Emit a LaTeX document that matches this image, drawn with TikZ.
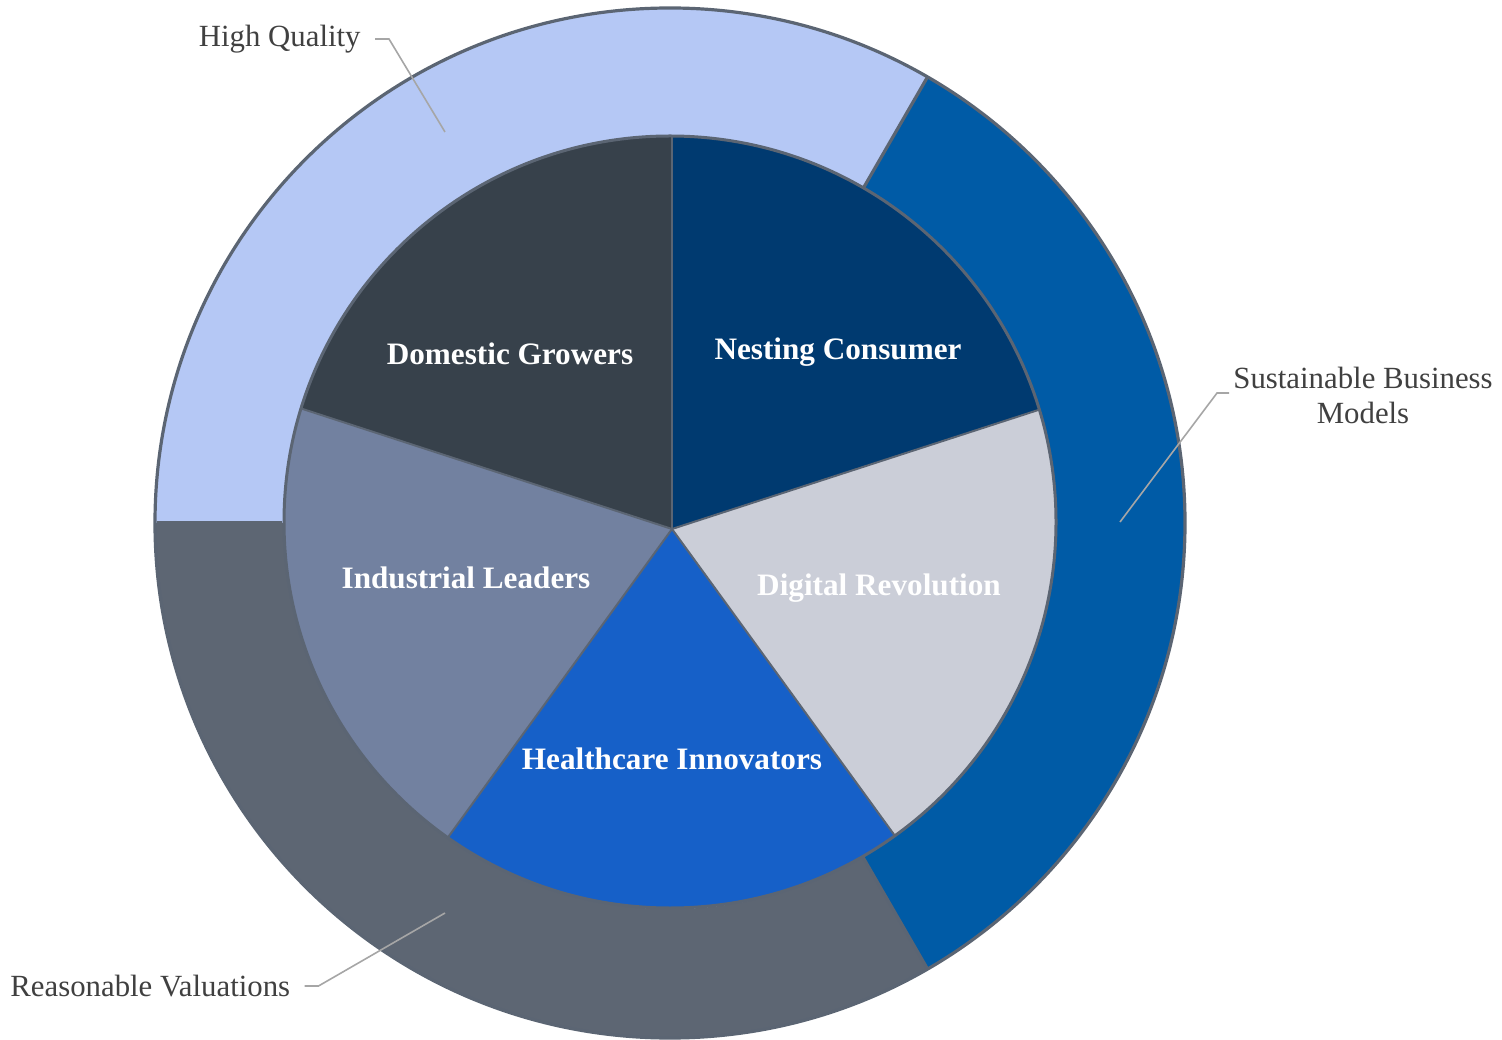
\documentclass[tikz,border=0pt]{standalone}
\usepackage{fontspec}
\setmainfont{Liberation Serif}
\definecolor{hqC}{HTML}{B5C8F5}
\definecolor{sbmC}{HTML}{005BA6}
\definecolor{rvC}{HTML}{5D6673}
\definecolor{nestC}{HTML}{003A70}
\definecolor{digC}{HTML}{CBCED8}
\definecolor{hcC}{HTML}{1660C8}
\definecolor{indC}{HTML}{7281A0}
\definecolor{domC}{HTML}{37414B}
\definecolor{bordC}{HTML}{5B6573}
\definecolor{leadC}{HTML}{A6A6A6}
\definecolor{txtC}{HTML}{404040}
\tikzset{
  ringseg/.style={draw=bordC, line width=1.6pt, line join=round},
  slicelbl/.style={text=white, font=\fontsize{15.6}{18}\selectfont\bfseries, inner sep=0pt},
  outlbl/.style={text=txtC, font=\fontsize{15.4}{17.5}\selectfont, inner sep=0pt, align=center},
  leader/.style={draw=leadC, line width=0.8pt}
}
\begin{document}
\begin{tikzpicture}[x=0.5pt,y=0.5pt]
\useasboundingbox (0,0) rectangle (1502,1039);
\coordinate (C) at (670,516);
\coordinate (Q) at (670,517);
\coordinate (P) at (672,510);
% outer ring
\fill[hqC] ([shift={(C)}]60:515) arc[start angle=60,end angle=180,radius=515]
   -- ([shift={(C)}]180:386) arc[start angle=180,end angle=60,radius=386] -- cycle;
\fill[sbmC] ([shift={(C)}]-60:515) arc[start angle=-60,end angle=60,radius=515]
   -- ([shift={(C)}]60:386) arc[start angle=60,end angle=-60,radius=386] -- cycle;
\fill[rvC] ([shift={(C)}]180:515) arc[start angle=180,end angle=300,radius=515]
   -- ([shift={(C)}]300:386) arc[start angle=300,end angle=180,radius=386] -- cycle;
\draw[ringseg] (C) circle[radius=515];
\draw[ringseg] ([shift={(C)}]60:386) -- ([shift={(C)}]60:515);
\draw[ringseg] ([shift={(C)}]-60:386) -- ([shift={(C)}]-60:515);
\draw[draw=rvC, line width=1.5pt] ([shift={(C)}]180:388) -- ([shift={(C)}]180:513);
% inner pie
\begin{scope}
\clip (Q) circle[radius=386];
\fill[nestC] (P) -- ++(90:600) arc[start angle=90,end angle=18,radius=600] -- cycle;
\fill[digC] (P) -- ++(18:600) arc[start angle=18,end angle=-54,radius=600] -- cycle;
\fill[hcC] (P) -- ++(-54:600) arc[start angle=-54,end angle=-126,radius=600] -- cycle;
\fill[indC] (P) -- ++(-126:600) arc[start angle=-126,end angle=-198,radius=600] -- cycle;
\fill[domC] (P) -- ++(162:600) arc[start angle=162,end angle=90,radius=600] -- cycle;
\foreach \a in {90,18,-54,-126,162} \draw[bordC, line width=1pt] (P) -- ++(\a:600);
\end{scope}
\draw[bordC, line width=1.5pt] (Q) circle[radius=386];
% slice labels
\node[slicelbl] (nest) at (838,687) {Nesting Consumer};
\node[slicelbl] (dom) at (510,685) {Domestic Growers};
\node[slicelbl] (ind) at (466,461) {Industrial Leaders};
\node[slicelbl] (dig) at (879,451) {Digital Revolution};
\node[slicelbl] (hc) at (672,280) {Healthcare Innovators};
% outer labels
\node[outlbl, anchor=east] (hq) at (361,1000) {High Quality};
\node[outlbl] (sbm) at (1363,644) {Sustainable Business\\Models};
\node[outlbl, anchor=west] (rv) at (10,53) {Reasonable Valuations};
\coordinate (hqpt) at (445,907);
\coordinate (sbmpt) at (1120,517);
\coordinate (rvpt) at (445,126);
\draw[leader] ([xshift=7]hq.east) -- ++(14,0) -- (hqpt);
\draw[leader] (1229,646) -- (1217,646) -- (sbmpt);
\draw[leader] ([xshift=7]rv.east) -- ++(14,0) -- (rvpt);
\end{tikzpicture}
\end{document}
